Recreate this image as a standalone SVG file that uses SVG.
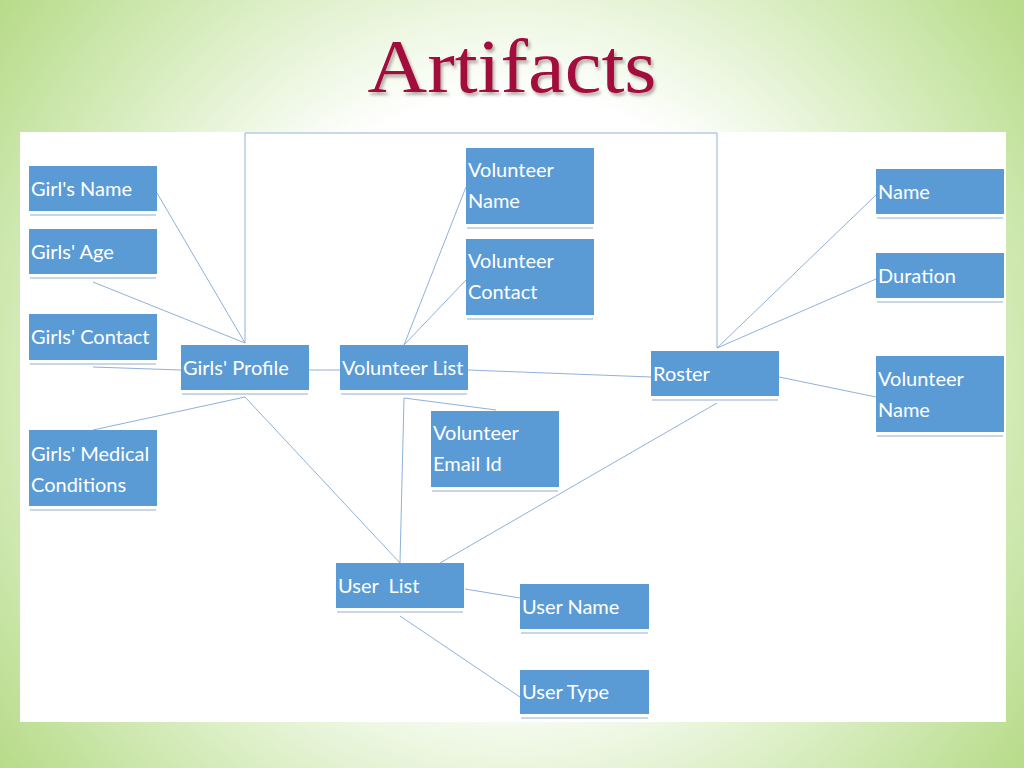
<svg xmlns="http://www.w3.org/2000/svg" width="1024" height="768" viewBox="0 0 1024 768">
<defs>
<radialGradient id="bg" gradientUnits="userSpaceOnUse" cx="512" cy="384" r="640">
<stop offset="0" stop-color="#ffffff"/>
<stop offset="0.45" stop-color="#ffffff"/>
<stop offset="0.7" stop-color="#dcefc6"/>
<stop offset="1" stop-color="#b6db88"/>
</radialGradient>
<filter id="sh" x="-10%" y="-20%" width="120%" height="150%">
<feDropShadow dx="2" dy="3" stdDeviation="1.5" flood-color="#5a4a4a" flood-opacity="0.45"/>
</filter>
</defs>
<style>
.n{fill:#5b9bd5}
.r{stroke:#c9d6e6;stroke-width:2}
.t{font-family:Lato,"Open Sans",sans-serif;font-size:20px;fill:#ffffff}
.c line,.c polyline{stroke:#8fb1da;stroke-width:1;fill:none}
</style>
<rect width="1024" height="768" fill="url(#bg)"/>
<rect x="20" y="132" width="986" height="590" fill="#ffffff"/>
<g id="title">
<text x="512" y="92" text-anchor="middle" font-family="'Liberation Serif',serif" font-size="76" fill="#a3073c" filter="url(#sh)" textLength="289" lengthAdjust="spacingAndGlyphs">Artifacts</text>
</g>
<g class="c" id="connectors">
<line x1="157" y1="193" x2="245" y2="343"/>
<line x1="93" y1="282" x2="245" y2="343"/>
<line x1="93" y1="367" x2="181" y2="370"/>
<line x1="93" y1="430" x2="245" y2="397"/>
<line x1="245" y1="397" x2="400" y2="563"/>
<polyline points="245,343 245,133 717,133 717,348"/>
<line x1="309" y1="370" x2="340" y2="370"/>
<line x1="404" y1="345" x2="466" y2="187"/>
<line x1="404" y1="345" x2="466" y2="280"/>
<line x1="468" y1="370" x2="651" y2="377"/>
<line x1="404" y1="398" x2="496" y2="410"/>
<line x1="404" y1="398" x2="400" y2="563"/>
<line x1="717" y1="348" x2="876" y2="195"/>
<line x1="717" y1="348" x2="876" y2="279"/>
<line x1="779" y1="377" x2="876" y2="397"/>
<line x1="717" y1="403" x2="440" y2="563"/>
<line x1="465" y1="589" x2="520" y2="598"/>
<line x1="400" y1="616" x2="520" y2="697"/>
</g>
<g id="girls-name"><rect class="n" x="29" y="166" width="128" height="45"/><line class="r" x1="30" y1="215" x2="156" y2="215"/><text class="t" x="31" y="196">Girl's Name</text></g>
<g id="girls-age"><rect class="n" x="29" y="229" width="128" height="45"/><line class="r" x1="30" y1="278" x2="156" y2="278"/><text class="t" x="31" y="259">Girls' Age</text></g>
<g id="girls-contact"><rect class="n" x="29" y="314" width="128" height="46"/><line class="r" x1="30" y1="364" x2="156" y2="364"/><text class="t" x="31" y="344">Girls' Contact</text></g>
<g id="girls-medical"><rect class="n" x="29" y="430" width="128" height="76"/><line class="r" x1="30" y1="510" x2="156" y2="510"/><text class="t" x="31" y="461">Girls' Medical</text><text class="t" x="31" y="492">Conditions</text></g>
<g id="girls-profile"><rect class="n" x="181" y="345" width="128" height="45"/><line class="r" x1="182" y1="394" x2="308" y2="394"/><text class="t" x="183" y="375">Girls' Profile</text></g>
<g id="volunteer-list"><rect class="n" x="340" y="345" width="128" height="45"/><line class="r" x1="341" y1="394" x2="467" y2="394"/><text class="t" x="342" y="375">Volunteer List</text></g>
<g id="volunteer-name"><rect class="n" x="466" y="148" width="128" height="76"/><line class="r" x1="467" y1="228" x2="593" y2="228"/><text class="t" x="468" y="177">Volunteer</text><text class="t" x="468" y="208">Name</text></g>
<g id="volunteer-contact"><rect class="n" x="466" y="239" width="128" height="76"/><line class="r" x1="467" y1="319" x2="593" y2="319"/><text class="t" x="468" y="268">Volunteer</text><text class="t" x="468" y="299">Contact</text></g>
<g id="volunteer-email"><rect class="n" x="431" y="411" width="128" height="76"/><line class="r" x1="432" y1="491" x2="558" y2="491"/><text class="t" x="433" y="440">Volunteer</text><text class="t" x="433" y="471">Email Id</text></g>
<g id="roster"><rect class="n" x="651" y="351" width="128" height="45"/><line class="r" x1="652" y1="400" x2="778" y2="400"/><text class="t" x="653" y="381">Roster</text></g>
<g id="name"><rect class="n" x="876" y="169" width="128" height="45"/><line class="r" x1="877" y1="218" x2="1003" y2="218"/><text class="t" x="878" y="199">Name</text></g>
<g id="duration"><rect class="n" x="876" y="253" width="128" height="45"/><line class="r" x1="877" y1="302" x2="1003" y2="302"/><text class="t" x="878" y="283">Duration</text></g>
<g id="roster-volunteer-name"><rect class="n" x="876" y="356" width="128" height="76"/><line class="r" x1="877" y1="436" x2="1003" y2="436"/><text class="t" x="878" y="386">Volunteer</text><text class="t" x="878" y="417">Name</text></g>
<g id="user-list"><rect class="n" x="336" y="563" width="128" height="45"/><line class="r" x1="337" y1="612" x2="463" y2="612"/><text class="t" x="338" y="593" xml:space="preserve">User  List</text></g>
<g id="user-name"><rect class="n" x="520" y="584" width="129" height="45"/><line class="r" x1="521" y1="633" x2="648" y2="633"/><text class="t" x="522" y="614">User Name</text></g>
<g id="user-type"><rect class="n" x="520" y="670" width="129" height="44"/><line class="r" x1="521" y1="718" x2="648" y2="718"/><text class="t" x="522" y="699">User Type</text></g>
</svg>
